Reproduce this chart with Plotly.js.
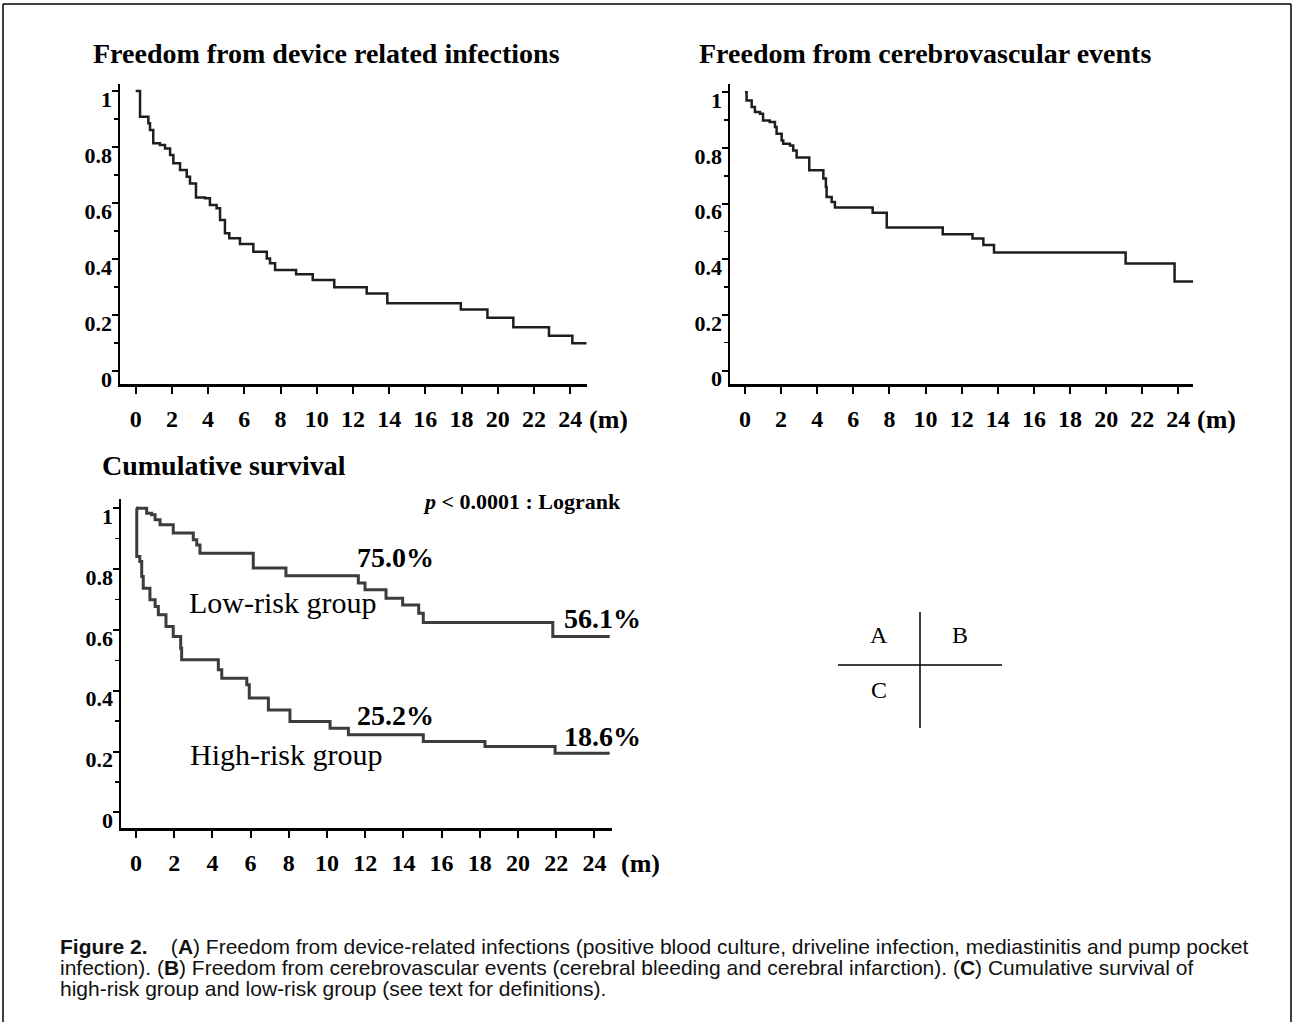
<!DOCTYPE html>
<html><head><meta charset="utf-8">
<script src="https://cdn.plot.ly/plotly-3.0.1.min.js"></script>
<style>html,body{margin:0;padding:0;background:#fff}#chart{width:1302px;height:1026px}</style>
</head><body><div id="chart"></div>
<script>
// ---------- data ----------
const monthTicks = [0, 2, 4, 6, 8, 10, 12, 14, 16, 18, 20, 22, 24];
const monthTickText = ['0', '2', '4', '6', '8', '10', '12', '14', '16', '18', '20', '22', '24'];
const survTickVals = [0, 0.2, 0.4, 0.6, 0.8, 1];
const survTickText = ['0', '0.2', '0.4', '0.6', '0.8', '1'];

// (A) Freedom from device related infections
const infectMonths = [0, 0.24, 0.70, 0.79, 0.97, 1.34, 1.62, 1.9, 2.08, 2.45, 2.82, 3.0, 3.33, 3.83, 4.1, 4.47, 4.66, 4.93, 5.17, 5.76, 6.5, 7.24, 7.42, 7.70, 8.86, 9.78, 10.97, 12.76, 13.9, 17.96, 19.43, 20.86, 22.83, 24.12, 24.9];
const infectFree = [1.0, 0.908, 0.885, 0.861, 0.813, 0.807, 0.795, 0.771, 0.742, 0.718, 0.694, 0.670, 0.620, 0.617, 0.593, 0.581, 0.539, 0.492, 0.474, 0.454, 0.426, 0.402, 0.385, 0.361, 0.346, 0.325, 0.299, 0.277, 0.242, 0.220, 0.190, 0.156, 0.126, 0.099, 0.099];

// (B) Freedom from cerebrovascular events
const cvMonths = [0, 0.09, 0.37, 0.55, 0.83, 1.0, 1.37, 1.66, 1.75, 2.03, 2.12, 2.49, 2.67, 2.86, 3.56, 4.34, 4.48, 4.52, 4.8, 4.98, 7.07, 7.85, 10.95, 12.6, 13.2, 13.79, 21.08, 23.79, 24.82];
const cvFree = [1.0, 0.971, 0.947, 0.929, 0.923, 0.899, 0.893, 0.875, 0.851, 0.827, 0.815, 0.809, 0.791, 0.766, 0.720, 0.690, 0.660, 0.624, 0.606, 0.586, 0.567, 0.514, 0.490, 0.475, 0.451, 0.424, 0.385, 0.320, 0.320];

// (C) Cumulative survival
const lowRiskMonths = [0, 0.56, 0.82, 1.0, 1.26, 1.95, 3.0, 3.18, 3.35, 6.14, 7.85, 11.64, 11.99, 13.09, 13.96, 14.8, 15.04, 21.82, 24.8];
const lowRiskSurv = [1.0, 0.983, 0.978, 0.962, 0.945, 0.918, 0.896, 0.879, 0.852, 0.803, 0.778, 0.754, 0.732, 0.704, 0.682, 0.655, 0.624, 0.578, 0.578];
const highRiskMonths = [0, 0.04, 0.2, 0.3, 0.38, 0.73, 1.0, 1.17, 1.57, 1.95, 2.34, 2.39, 4.31, 4.49, 5.8, 5.93, 6.93, 8.06, 10.16, 11.12, 15.04, 18.27, 21.94, 24.8];
const highRiskSurv = [1.0, 0.841, 0.825, 0.775, 0.737, 0.699, 0.677, 0.650, 0.611, 0.578, 0.540, 0.502, 0.469, 0.441, 0.420, 0.376, 0.337, 0.299, 0.277, 0.255, 0.233, 0.217, 0.195, 0.195];

const panelTitles = ['Freedom from device related infections', 'Freedom from cerebrovascular events', 'Cumulative survival'];
const groupLabels = ['Low-risk group', 'High-risk group'];
const pctLabels = ['75.0%', '56.1%', '25.2%', '18.6%'];
const pValueText = '<i>p</i> &lt; 0.0001 : Logrank';
const unitText = '(m)';
const captionLines = [
  '<b>Figure 2.</b>    (<b>A</b>) Freedom from device-related infections (positive blood culture, driveline infection, mediastinitis and pump pocket',
  'infection). (<b>B</b>) Freedom from cerebrovascular events (cerebral bleeding and cerebral infarction). (<b>C</b>) Cumulative survival of',
  'high-risk group and low-risk group (see text for definitions).'
];
const keyLetters = ['A', 'B', 'C'];

// ---------- layout helpers ----------
const W = 1302, H = 1026;
const px = p => p / W;
const py = p => 1 - p / H;
const SERIF = 'Liberation Serif, Times New Roman, serif';
const SANS = 'Liberation Sans, Arial, sans-serif';

function xAx(d0, d1, r0, r1, anchor) {
  return {
    domain: [px(d0), px(d1)], range: [r0, r1], anchor: anchor,
    showline: true, linecolor: '#000', linewidth: 2.5, mirror: false,
    ticks: 'outside', ticklen: 7, tickwidth: 2, tickcolor: '#000',
    tickmode: 'array', tickvals: monthTicks, ticktext: monthTickText,
    ticklabelstandoff: 5,
    showgrid: false, zeroline: false, fixedrange: true,
    tickfont: {family: SERIF, size: 24, color: '#000', weight: 'bold'}
  };
}
function yAx(d0, d1, r0, r1, anchor) {
  return {
    domain: [py(d1), py(d0)], range: [r0, r1], anchor: anchor,
    showline: true, linecolor: '#000', linewidth: 2.5,
    ticks: 'outside', ticklen: 6, tickwidth: 2, tickcolor: '#000',
    tickmode: 'array', tickvals: survTickVals, ticktext: survTickText,
    minor: {tickmode: 'linear', tick0: 0, dtick: 0.1, ticks: 'outside', ticklen: 4, tickwidth: 1.5, tickcolor: '#000'},
    ticklabelshift: 8, ticklabelstandoff: -5,
    showgrid: false, zeroline: false, fixedrange: true,
    tickfont: {family: SERIF, size: 22, color: '#000', weight: 'bold'}
  };
}

const traces = [
  {x: infectMonths, y: infectFree, xaxis: 'x', yaxis: 'y', type: 'scatter', mode: 'lines',
   line: {shape: 'hv', color: '#1e1e1e', width: 2.5}, hoverinfo: 'skip'},
  {x: cvMonths, y: cvFree, xaxis: 'x2', yaxis: 'y2', type: 'scatter', mode: 'lines',
   line: {shape: 'hv', color: '#1e1e1e', width: 2.5}, hoverinfo: 'skip'},
  {x: lowRiskMonths, y: lowRiskSurv, xaxis: 'x3', yaxis: 'y3', type: 'scatter', mode: 'lines',
   line: {shape: 'hv', color: '#3c3c3c', width: 3}, hoverinfo: 'skip'},
  {x: highRiskMonths, y: highRiskSurv, xaxis: 'x3', yaxis: 'y3', type: 'scatter', mode: 'lines',
   line: {shape: 'hv', color: '#3c3c3c', width: 3}, hoverinfo: 'skip'}
];

function txt(text, x, y, size, opts) {
  return Object.assign({
    text: text, xref: 'paper', yref: 'paper', x: px(x), y: py(y),
    xanchor: 'center', yanchor: 'middle', showarrow: false,
    font: {family: SERIF, size: size, color: '#000'}
  }, opts || {});
}
const bf = (size) => ({family: SERIF, size: size, color: '#000', weight: 'bold'});

const annotations = [
  txt(panelTitles[0], 326, 54, 28, {font: bf(28)}),
  txt(panelTitles[1], 925, 54, 28, {font: bf(28)}),
  txt(panelTitles[2], 100, 465, 28, {xanchor: 'left', font: bf(28)}),
  txt(pValueText, 623, 501, 22, {xanchor: 'right', font: bf(22)}),
  txt(pctLabels[0], 395, 557, 28, {font: bf(28)}),
  txt(groupLabels[0], 282, 602, 30),
  txt(pctLabels[1], 643, 618, 28, {xanchor: 'right', font: bf(28)}),
  txt(pctLabels[2], 395, 715, 28, {font: bf(28)}),
  txt(groupLabels[1], 286, 754, 30),
  txt(pctLabels[3], 643, 736, 28, {xanchor: 'right', font: bf(28)}),
  // unit labels
  {text: unitText, xref: 'x', x: 24, xanchor: 'left', xshift: 17, yref: 'paper', y: py(419), yanchor: 'middle', showarrow: false,
   font: bf(26)},
  {text: unitText, xref: 'x2', x: 24, xanchor: 'left', xshift: 17, yref: 'paper', y: py(419), yanchor: 'middle', showarrow: false,
   font: bf(26)},
  {text: unitText, xref: 'x3', x: 24, xanchor: 'left', xshift: 25, yref: 'paper', y: py(863), yanchor: 'middle', showarrow: false,
   font: bf(26)},
  // key diagram
  txt(keyLetters[0], 879, 635, 24),
  txt(keyLetters[1], 960, 635, 24),
  txt(keyLetters[2], 879, 690, 24),
  // caption
  txt(captionLines[0], 58, 946, 21, {xanchor: 'left', font: {family: SANS, size: 21, color: '#111'}}),
  txt(captionLines[1], 58, 967, 21, {xanchor: 'left', font: {family: SANS, size: 21, color: '#111'}}),
  txt(captionLines[2], 58, 988, 21, {xanchor: 'left', font: {family: SANS, size: 21, color: '#111'}})
];

const line = (x0, y0, x1, y1, w) => ({type: 'line', xref: 'paper', yref: 'paper',
  x0: px(x0), y0: py(y0), x1: px(x1), y1: py(y1), line: {color: '#000', width: w}});
const shapes = [
  line(3, 4, 1291, 4, 1.5),
  line(3, 4, 3, 1022, 1.5),
  line(1291, 4, 1291, 1022, 1.5),
  line(838, 665, 1002, 665, 1.5),
  line(920, 612, 920, 728, 1.5)
];

const layout = {
  width: W, height: H, margin: {l: 0, r: 0, t: 0, b: 0},
  paper_bgcolor: '#fff', plot_bgcolor: 'rgba(0,0,0,0)', showlegend: false,
  xaxis: xAx(120, 587, -0.867, 24.93, 'y'),
  yaxis: yAx(84, 384, -0.0464, 1.025, 'x'),
  xaxis2: xAx(730, 1193, -0.83, 24.81, 'y2'),
  yaxis2: yAx(84, 384, -0.0485, 1.03, 'x2'),
  xaxis3: xAx(121, 612, -0.785, 24.92, 'y3'),
  yaxis3: yAx(499, 828, -0.051, 1.03, 'x3'),
  annotations: annotations, shapes: shapes
};

Plotly.newPlot('chart', traces, layout, {displayModeBar: false, staticPlot: true});
</script>
</body></html>
